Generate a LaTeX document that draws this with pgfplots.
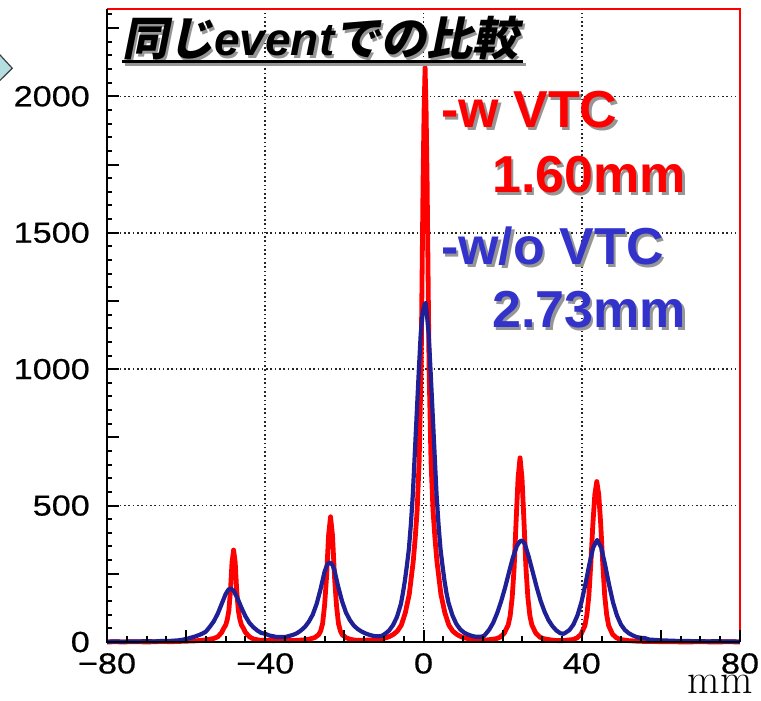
\documentclass[border=0pt]{standalone}
\usepackage{fontspec}
\usepackage{pgfplots}
\pgfplotsset{compat=1.18}
\newfontfamily\ticfont[FakeStretch=1.18,FakeBold=0.6]{Liberation Sans}
\newfontfamily\lab{Liberation Sans}
\newfontfamily\cjk[FakeSlant=0.2]{Noto Sans CJK JP}
\definecolor{hblue}{RGB}{32,32,150}
\definecolor{tblue}{RGB}{51,51,204}
\definecolor{hred}{RGB}{255,0,0}
\definecolor{shad}{RGB}{150,150,150}
\definecolor{arrowfill}{RGB}{180,222,224}
\begin{document}
\begin{tikzpicture}
\begin{axis}[
  at={(107pt,59pt)}, anchor=south west,
  scale only axis, width=633pt, height=633pt,
  xmin=-80, xmax=80, ymin=0, ymax=2320,
  axis line style={draw=none},
  xtick pos=left, ytick pos=left,
  xtick={-80,-40,0,40,80}, xticklabels={−80,−40,0,40,80},
  ytick={0,500,1000,1500,2000}, yticklabels={0,500,1000,1500,2000},
  major tick length=12pt, minor tick length=5.5pt,
  tick style={black, line width=2pt},
  tick align=inside,
  xmajorgrids, ymajorgrids,
  major grid style={black!85, line width=1.6pt, dash pattern=on 1.6pt off 2.7pt},
  xticklabel style={font={\ticfont\fontsize{29}{29}\selectfont}, anchor=north, inner sep=0pt, yshift=-11pt},
  yticklabel style={font={\ticfont\fontsize{29}{29}\selectfont}, anchor=east, inner sep=0pt, xshift=-17pt},
  clip=false,
]
\addplot[hred, line width=4.8pt, line join=round] coordinates {
(-80,0) (-78,1) (-76,0) (-74,1) (-72,1) (-70,0) (-68,1) (-66,2) (-64,1) (-62,2) (-60,3) (-58,4) (-56,6) (-55,8)
(-54,10) (-53,13) (-52,19) (-51,35) (-50.5,50) (-50,62) (-49.6,82) (-49.2,115) (-48.8,185) (-48.4,292) (-48,337) (-47.6,292) (-47.2,185) (-46.8,115) (-46.4,82) (-46,62) (-45.5,50) (-45,35) (-44,19) (-43,11) (-42,8) (-41,6)
(-40,6) (-38,5) (-36,6) (-34,5) (-32,6)
(-30,8) (-29,10) (-28.5,12) (-27.5,16) (-26.5,27) (-26,40) (-25.5,68) (-25,135) (-24.5,240) (-24,390) (-23.5,459) (-23,390) (-22.5,240) (-22,135) (-21.5,68) (-21,40) (-20.5,26) (-19.5,15) (-18.5,10) (-17.5,7) (-16,6) (-14,7) (-12,8)
(-11.6,10) (-9.6,15) (-8.6,20) (-7.6,28) (-6.6,40) (-5.6,62) (-4.6,107) (-3.6,175) (-2.6,295) (-2.1,380) (-1.6,484) (-1.1,663) (-0.6,1010) (-0.1,1700) (0.15,1950) (0.4,2105) (0.65,1950) (0.9,1700) (1.4,1010) (1.9,663) (2.4,484) (2.9,380) (3.4,295) (4.4,175) (5.4,107) (6.4,62) (7.4,40) (8.4,28) (9.4,20) (10.4,15) (12.4,9)
(13.5,7) (14.5,6) (15.5,7)
(16.4,8) (18.4,12) (19.4,18) (20.4,32) (21.4,62) (21.9,95) (22.4,160) (22.9,270) (23.4,440) (23.9,600) (24.4,675) (24.9,600) (25.4,440) (25.9,270) (26.4,160) (26.9,95) (27.4,62) (28.4,32) (29.4,18) (30.4,12) (32.4,7) (34,5) (35,5)
(35.8,6) (37.8,9) (38.8,15) (39.8,28) (40.8,60) (41.3,100) (41.8,170) (42.3,290) (42.8,430) (43.3,540) (43.8,588) (44.3,540) (44.8,430) (45.3,290) (45.8,170) (46.3,100) (46.8,60) (47.8,28) (48.8,15) (49.8,9) (51.8,5) (54,3) (56,2) (58,2) (60,1) (63,1) (66,0) (70,1) (74,0) (77,1) (80,0)
};
\addplot[hblue, line width=4.2pt, line join=round] coordinates {
(-80,1) (-78,2) (-76,1) (-74,2) (-72,2) (-70,3) (-68,2) (-66,4) (-64,4) (-62,6)
(-61,8) (-60,11) (-59,15) (-58,19) (-57,24) (-56,30) (-55,38) (-54,56) (-53,76) (-52,104) (-51,140) (-50,176) (-49.3,192) (-48.8,196) (-48,188) (-47,160) (-46,125) (-45,94) (-44,70) (-43,54) (-42,42) (-41,33) (-40,30) (-39,24) (-38,21) (-37,18) (-36,18)
(-35,18) (-34,22) (-33,26) (-32,32) (-31,42) (-30,55) (-29,74) (-28,100) (-27,140) (-26,195) (-25,258) (-24.3,285) (-23.6,292) (-23,282) (-22.5,262) (-21.6,205) (-20.6,150) (-19.6,108) (-18.6,80) (-17.6,60) (-16.6,47) (-15.6,38) (-14.6,31) (-13.6,26) (-12.6,22) (-11.6,21) (-10.6,22)
(-9.7,30) (-8.7,42) (-7.7,62) (-6.7,92) (-5.7,140) (-5.2,180) (-4.7,225) (-4.2,280) (-3.7,340) (-3.2,430) (-2.7,540) (-2.2,690) (-1.7,840) (-1.2,990) (-0.7,1130) (-0.2,1210) (0.3,1238) (0.55,1243) (0.8,1210) (1.3,1130) (1.8,990) (2.3,840) (2.8,690) (3.3,540) (3.8,430) (4.3,340) (4.8,280) (5.3,225) (5.8,180) (6.3,145) (7.3,98) (8.3,66) (9.3,46) (10.3,34) (11.3,27) (12.3,22) (13.3,19) (14.3,19)
(15.3,22) (16.6,45) (17.6,70) (18.6,105) (19.6,148) (20.6,198) (21.6,255) (22.6,310) (23.6,352) (24.3,368) (24.9,372) (25.6,360) (26.6,312) (27.6,257) (28.6,201) (29.6,151) (30.6,111) (31.6,80) (32.6,58) (33.6,42) (34.6,32) (35.4,30)
(35.9,34) (36.9,44) (37.9,64) (38.9,97) (39.9,145) (40.9,210) (41.9,283) (42.9,347) (43.9,374) (44.9,347) (45.9,283) (46.9,210) (47.9,145) (48.9,97) (49.9,64) (50.9,44) (51.9,32) (52.9,24) (53.9,18) (55,15) (56,14) (57,9) (58,8) (60,6) (62,5) (64,4) (66,4) (68,3) (70,3) (72,2) (74,3) (76,2) (78,2) (80,1)
};
\draw[hred, line width=1.2pt] (rel axis cs:0,1) -- (rel axis cs:1,1) -- (rel axis cs:1,0);
% tick marks of the frame (inside)
\pgfplotsinvokeforeach{-75,-70,...,75}{\draw[black, line width=2pt] (axis cs:#1,0) -- ++(0pt,5.5pt);}
\pgfplotsinvokeforeach{-80,-60,...,80}{\draw[black, line width=2pt] (axis cs:#1,0) -- ++(0pt,12pt);}
\pgfplotsinvokeforeach{50,100,...,2300}{\draw[black, line width=2pt] (axis cs:-80,#1) -- ++(5.5pt,0pt);}
\pgfplotsinvokeforeach{250,500,...,2250}{\draw[black, line width=2pt] (axis cs:-80,#1) -- ++(12pt,0pt);}
\draw[black, line width=2.2pt] (rel axis cs:0,1) -- (rel axis cs:0,0) -- (rel axis cs:1,0);
\end{axis}
\begin{scope}[x=1pt,y=1pt]
% x label
\node[anchor=base east, inner sep=0pt] at (753,7) {\fontsize{42}{42}\selectfont mm};
% title with shadow
\node[anchor=base west, inner sep=0pt, text=shad] at (124.5,642.5) {\fontsize{46}{46}\selectfont{\cjk\bfseries 同じ}{\lab\bfseries\itshape event}{\cjk\bfseries での比較}};
\draw[shad, line width=3pt] (124.5,636.8) -- (525.5,636.8);
\node[anchor=base west, inner sep=0pt, text=black] at (122,645) {\fontsize{46}{46}\selectfont{\cjk\bfseries 同じ}{\lab\bfseries\itshape event}{\cjk\bfseries での比較}};
\draw[black, line width=3pt] (122,639.3) -- (523,639.3);
% labels with shadow
\foreach \dx/\dy/\c/\d in {2.5/-2.5/shad/shad, 0/0/hred/tblue}{
  \node[anchor=base west, inner sep=0pt, text=\c] at (441+\dx,573+\dy) {\lab\bfseries\fontsize{52}{52}\selectfont -w VTC};
  \node[anchor=base west, inner sep=0pt, text=\c] at (492+\dx,508+\dy) {\lab\bfseries\fontsize{52}{52}\selectfont 1.60mm};
  \node[anchor=base west, inner sep=0pt, text=\d] at (441+\dx,436+\dy) {\lab\bfseries\fontsize{52}{52}\selectfont -w/o VTC};
  \node[anchor=base west, inner sep=0pt, text=\d] at (492+\dx,373+\dy) {\lab\bfseries\fontsize{52}{52}\selectfont 2.73mm};
}
% slide decoration at left
\draw[line width=1.2pt, draw=black!75, fill=arrowfill] (-3,649.3) -- (12.3,632.7) -- (-3,617.7);
\end{scope}
\pgfresetboundingbox
\useasboundingbox (0pt,0pt) rectangle (761pt,701pt);
\end{tikzpicture}
\end{document}
